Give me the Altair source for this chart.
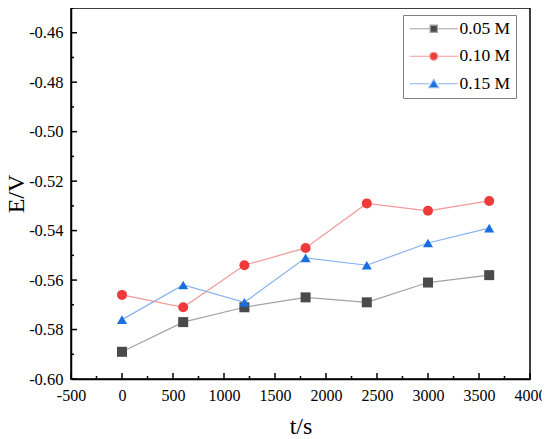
import altair as alt
import pandas as pd

# ---- data ----
t_values = [0, 600, 1200, 1800, 2400, 3000, 3600]
e_005 = [-0.589, -0.577, -0.571, -0.567, -0.569, -0.561, -0.558]
e_010 = [-0.566, -0.571, -0.554, -0.547, -0.529, -0.532, -0.528]
e_015 = [-0.576, -0.562, -0.569, -0.551, -0.554, -0.545, -0.539]
series_names = ["0.05 M", "0.10 M", "0.15 M"]

marker_colors = ["#4a4a4a", "#ef3a3a", "#1a6fdf"]
line_colors = ["#a3a3a3", "#f29a9a", "#86b3ee"]
plot_shapes = ["square", "circle", "triangle-up"]
legend_shapes = [
    "M-6,0H-0.9M0.9,0H6M-0.9,-0.9H0.9V0.9H-0.9Z",
    "M-6,0H-1M1,0H6M-1,0A1,1 0 1,0 1,0A1,1 0 1,0 -1,0Z",
    "M-6,0H-1.1M1.1,0H6M0,-1.1L1.2,0.95H-1.2Z",
]

x_major = [-500, 0, 500, 1000, 1500, 2000, 2500, 3000, 3500, 4000]
x_minor = [-250, 250, 750, 1250, 1750, 2250, 2750, 3250, 3750]
y_major = [-0.60, -0.58, -0.56, -0.54, -0.52, -0.50, -0.48, -0.46]
y_minor = [-0.59, -0.57, -0.55, -0.53, -0.51, -0.49, -0.47, -0.45]

rows = []
for name, vals in zip(series_names, [e_005, e_010, e_015]):
    for t, e in zip(t_values, vals):
        rows.append({"t": t, "E": e, "series": name})
df = pd.DataFrame(rows)

xmaj_df = pd.DataFrame({"t": x_major})
xmin_df = pd.DataFrame({"t": x_minor})
ymaj_df = pd.DataFrame({"E": y_major})
ymin_df = pd.DataFrame({"E": y_minor})

W, H = 459, 371
FONT = "Liberation Serif, Times New Roman, serif"

xs = alt.Scale(domain=[-500, 4000], nice=False, zero=False)
ys = alt.Scale(domain=[-0.60, -0.45], nice=False, zero=False)

x_axis = alt.Axis(
    values=x_major, ticks=False, grid=False, domainColor="black", domainWidth=1.5,
    labelExpr="(datum.value < 0 ? '-' : '') + format(abs(datum.value), 'd')",
    labelFont=FONT, labelFontSize=16, labelColor="black", labelPadding=8,
    labelFlush=False, title="t/s", titleFont=FONT, titleFontSize=24,
    titleFontWeight="normal", titleColor="black", titlePadding=11)
y_axis = alt.Axis(
    values=y_major, ticks=False, grid=False, domainColor="black", domainWidth=1.5,
    labelExpr="(datum.value < 0 ? '-' : '') + format(abs(datum.value), '.2f')",
    labelFont=FONT, labelFontSize=16.5, labelColor="black", labelPadding=8,
    labelFlush=False, title="E/V", titleFont=FONT, titleFontSize=24,
    titleFontWeight="normal", titleColor="black", titlePadding=0)


def X():
    return alt.X("t:Q", scale=xs, axis=x_axis)


def Y():
    return alt.Y("E:Q", scale=ys, axis=y_axis)


base = alt.Chart(df)

lines = base.mark_line(strokeWidth=1.2).encode(
    x=X(), y=Y(),
    stroke=alt.Stroke("series:N", scale=alt.Scale(domain=series_names, range=line_colors), legend=None),
    detail="series:N",
)

points = base.mark_point(filled=True, opacity=1, size=100).encode(
    x=X(), y=Y(),
    fill=alt.Fill("series:N", scale=alt.Scale(domain=series_names, range=marker_colors), legend=None),
    shape=alt.Shape("series:N", scale=alt.Scale(domain=series_names, range=plot_shapes), legend=None),
)


def x_ticks(data, size):
    return alt.Chart(data).mark_rule(color="black", strokeWidth=1.5).encode(
        x=X(), y=alt.value(H), y2=alt.value(H - size),
    )


def y_ticks(data, size):
    return alt.Chart(data).mark_rule(color="black", strokeWidth=1.5).encode(
        y=Y(), x=alt.value(0), x2=alt.value(size),
    )


legend_layer = base.transform_filter("false").mark_point(
    filled=True, opacity=1, size=64, strokeWidth=1.2).encode(
    x=X(), y=Y(),
    fill=alt.Fill("series:N", scale=alt.Scale(domain=series_names, range=marker_colors),
                  legend=alt.Legend(title=None)),
    stroke=alt.Stroke("series:N", scale=alt.Scale(domain=series_names, range=line_colors),
                      legend=alt.Legend(title=None)),
    shape=alt.Shape("series:N", scale=alt.Scale(domain=series_names, range=legend_shapes),
                    legend=alt.Legend(title=None)),
)

chart = alt.layer(
    lines, points,
    x_ticks(xmaj_df, 6), x_ticks(xmin_df, 3),
    y_ticks(ymaj_df, 6), y_ticks(ymin_df, 3),
    legend_layer,
).resolve_scale(
    fill="independent", stroke="independent", shape="independent"
).resolve_legend(
    fill="independent", stroke="independent", shape="independent"
).properties(
    width=W, height=H,
    autosize=alt.AutoSizeParams(type="none"),
    padding={"left": 63, "top": 0, "right": 12, "bottom": 58},
).configure_axis(
    labelFont=FONT, titleFont=FONT,
).configure_view(
    stroke="black", strokeWidth=1.5
).configure_legend(
    orient="none", legendX=332, legendY=7,
    labelFont=FONT, labelFontSize=17.5, labelColor="black",
    symbolSize=64, symbolStrokeWidth=1.2, symbolOffset=17, labelOffset=17,
    rowPadding=8.5, padding=5, strokeColor="#808080", fillColor="white",
)

chart.save("out.html", embed_options={"renderer": "svg", "actions": False})
